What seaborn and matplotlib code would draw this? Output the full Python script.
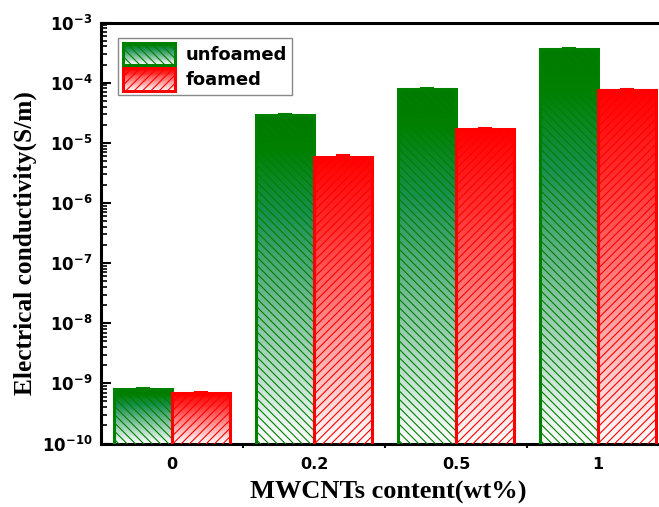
import numpy as np
import pandas as pd
import matplotlib
matplotlib.use("Agg")
import matplotlib.pyplot as plt
import seaborn as sns
from matplotlib.patches import Rectangle
from matplotlib.legend_handler import HandlerBase
from matplotlib.colors import LinearSegmentedColormap
from matplotlib.transforms import blended_transform_factory
from matplotlib.ticker import LogLocator, FixedLocator, NullFormatter

# ---- data ----
categories = ["0", "0.2", "0.5", "1"]
unfoamed = [8.0e-10, 2.9e-5, 7.8e-5, 3.6e-4]
foamed = [6.8e-10, 5.9e-6, 1.69e-5, 7.6e-5]
unfoamed_err = [0.5e-10, 1.5e-6, 3.5e-6, 1.5e-5]
foamed_err = [0.5e-10, 0.3e-6, 1.0e-6, 3.0e-6]
series_names = ["unfoamed", "foamed"]
ytick_exps = [-10, -9, -8, -7, -6, -5, -4, -3]

GREEN = "#008000"
RED = "#ff0000"
colors = {"unfoamed": GREEN, "foamed": RED}
hatches = {"unfoamed": "\\\\\\\\", "foamed": "////"}
cmaps = {
    "unfoamed": LinearSegmentedColormap.from_list(
        "g", [(0.0, "#ffffff"), (0.7, "#1a9050"), (0.9, "#008000"), (1.0, "#007a00")]),
    "foamed": LinearSegmentedColormap.from_list(
        "r", [(0.0, "#ffffff"), (0.75, "#ff3030"), (1.0, "#ff0000")]),
}

df = pd.DataFrame({
    "content": categories * 2,
    "value": unfoamed + foamed,
    "err": unfoamed_err + foamed_err,
    "type": ["unfoamed"] * len(categories) + ["foamed"] * len(categories),
})

sns.set_style("ticks")
plt.rcParams["mathtext.fontset"] = "dejavusans"
plt.rcParams["hatch.linewidth"] = 0.8
plt.rcParams["text.color"] = "black"
plt.rcParams["axes.labelcolor"] = "black"
plt.rcParams["xtick.color"] = "black"
plt.rcParams["ytick.color"] = "black"

fig = plt.figure(figsize=(6.59, 5.07), dpi=100)
ax = fig.add_axes([101 / 659, 1 - 443.5 / 507, 568 / 659, 421 / 507])

sns.barplot(data=df, x="content", y="value", hue="type", hue_order=series_names,
            order=categories, palette=colors, errorbar=None, width=0.82,
            ax=ax, legend=False, zorder=3)
ax.set_yscale("log")
ax.set_ylim(1e-10, 1e-3)
ax.set_xlim(-0.5, 3.5)

# style bars: gradient fill (linear in screen space) + hatch + colored edge
n_cat = len(categories)
patches = [p for p in ax.patches if isinstance(p, Rectangle)]
grad = np.linspace(1, 0, 256).reshape(-1, 1)
trans_xdata_yaxes = blended_transform_factory(ax.transData, ax.transAxes)
for i, p in enumerate(patches[: 2 * n_cat]):
    name = series_names[i // n_cat]
    x0 = p.get_x()
    w = p.get_width()
    top = p.get_y() + p.get_height()
    top_frac = ax.transAxes.inverted().transform(ax.transData.transform((x0, top)))[1]
    im = ax.imshow(grad, cmap=cmaps[name], vmin=0, vmax=1,
                   extent=(x0, x0 + w, 0, top_frac), aspect="auto",
                   transform=trans_xdata_yaxes, origin="upper", zorder=2,
                   interpolation="bilinear")
    im.set_clip_path(p)
    p.set_facecolor("none")
    p.set_edgecolor(colors[name])
    p.set_linewidth(2.2)
    p.set_hatch(hatches[name])
    p.set_zorder(3)
    sub = df[df["type"] == name]
    val = sub["value"].values[i % n_cat]
    er = sub["err"].values[i % n_cat]
    ax.errorbar(x0 + w / 2, val, yerr=er, color=colors[name], capsize=5,
                capthick=1.5, elinewidth=1.5, zorder=4, fmt="none")

ax.set_xlim(-0.5, 3.5)
ax.set_ylim(1e-10, 1e-3)

# ticks
ax.yaxis.set_major_locator(FixedLocator([10.0 ** e for e in ytick_exps]))
ax.set_yticklabels([r"$\mathbf{10^{%d}}$" % e for e in ytick_exps])
ax.yaxis.set_minor_locator(LogLocator(base=10, subs=np.arange(2, 10), numticks=20))
ax.yaxis.set_minor_formatter(NullFormatter())
ax.tick_params(axis="y", which="major", direction="in", length=7, width=1.5,
               labelsize=12, pad=6, colors="black")
ax.tick_params(axis="y", which="minor", direction="in", length=4, width=1.2,
               colors="black")
ax.set_xticks(range(n_cat))
ax.set_xticklabels(categories)
ax.set_xticks([0.5, 1.5, 2.5], minor=True)
ax.tick_params(axis="x", which="major", direction="in", length=5, width=1.5,
               labelsize=11.5, pad=10, colors="black")
ax.tick_params(axis="x", which="minor", direction="out", length=3, width=1.5,
               colors="black")
for lab in ax.get_xticklabels():
    lab.set_fontfamily("DejaVu Sans")
    lab.set_fontweight("bold")

for s in ["left", "bottom", "top", "right"]:
    ax.spines[s].set_linewidth(2.2)
    ax.spines[s].set_color("black")

ax.set_xlabel("MWCNTs content(wt%)", fontfamily="Liberation Serif",
              fontweight="bold", fontsize=19, color="black")
ax.set_ylabel("Electrical conductivity(S/m)", fontfamily="Liberation Serif",
              fontweight="bold", fontsize=18.3, color="black")
ax.xaxis.set_label_coords(0.505, -0.088)
ax.yaxis.set_label_coords(-0.112, 0.476)


class GradHandler(HandlerBase):
    def __init__(self, cmap, color, hatch):
        super().__init__()
        self.cmap = cmap
        self.color = color
        self.hatch = hatch

    def create_artists(self, legend, orig_handle, xdescent, ydescent, width,
                       height, fontsize, trans):
        arts = []
        n = 24
        for k in range(n):
            f = (k + 0.5) / n
            arts.append(Rectangle((-xdescent, -ydescent + k * height / n), width,
                                  height / n + 0.3, facecolor=self.cmap(f),
                                  edgecolor="none", transform=trans))
        arts.append(Rectangle((-xdescent, -ydescent), width, height,
                              facecolor="none", edgecolor=self.color,
                              hatch=self.hatch, linewidth=2.2, transform=trans))
        return arts


h1 = Rectangle((0, 0), 1, 1)
h2 = Rectangle((0, 0), 1, 1)
leg = ax.legend([h1, h2], series_names,
                handler_map={h1: GradHandler(cmaps["unfoamed"], GREEN, "\\\\\\\\"),
                             h2: GradHandler(cmaps["foamed"], RED, "////")},
                loc="upper left", bbox_to_anchor=(0.03, 0.963),
                borderaxespad=0, frameon=True, fancybox=False, framealpha=1,
                edgecolor="#888888", handlelength=2.9, handleheight=1.55,
                labelspacing=0.15, handletextpad=0.6, borderpad=0.25,
                prop={"family": "DejaVu Sans", "weight": "bold", "size": 13})
leg.get_frame().set_linewidth(1.0)
leg.set_zorder(10)

fig.savefig("out.png", dpi=100)
